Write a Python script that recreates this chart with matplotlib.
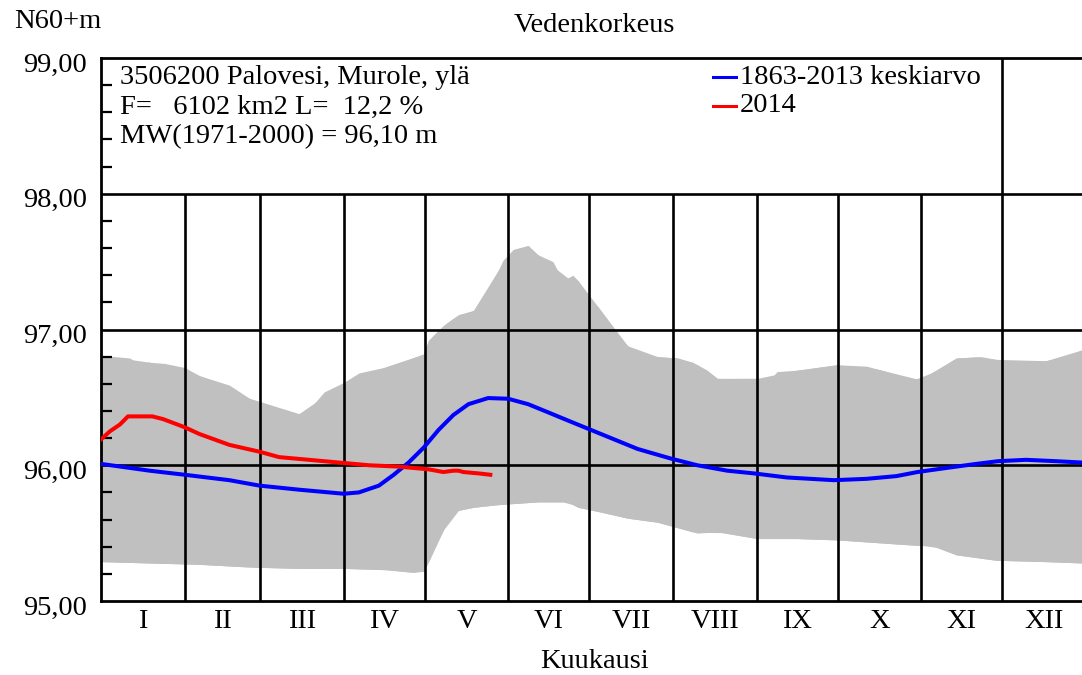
import matplotlib
matplotlib.use("Agg")
import matplotlib.pyplot as plt
import matplotlib.transforms as mtransforms
import numpy as np
from matplotlib.lines import Line2D

plt.rcParams['font.family'] = ['Liberation Serif', 'DejaVu Serif']

# ---- data (day of year, water level N60+m) ----
upper_days = [0, 10.7, 14.4, 17.3, 23.6, 31, 36.5, 47.6, 56.8, 64.2, 69.7, 73.4, 77.1, 82.7,
              90, 95.6, 104.8, 114, 119.6, 121.4, 126.9, 132.5, 138, 141.7, 145.4, 149,
              152.8, 156.5, 158.3, 162, 167.5, 171.2, 174.9, 176.8, 180.4, 184.1, 187.8,
              191.5, 195.2, 198.9, 206.3, 213.7, 219.2, 224.7, 230.3, 235.8, 243.2, 246.9,
              250.6, 257.9, 265.3, 272.7, 283.8, 291.1, 298.5, 304, 309.6, 317, 326.2,
              331.7, 335.4, 342.8, 350.2, 357.6, 363.6]
upper_vals = [96.81, 96.79, 96.74, 96.76, 96.75, 96.72, 96.66, 96.59, 96.47, 96.41, 96.38,
              96.38, 96.41, 96.54, 96.61, 96.68, 96.72, 96.78, 96.82, 96.92, 97.03, 97.11,
              97.14, 97.22, 97.36, 97.51, 97.59, 97.61, 97.62, 97.55, 97.50, 97.36, 97.40,
              97.36, 97.25, 97.17, 97.07, 96.96, 96.88, 96.83, 96.80, 96.79, 96.76, 96.70,
              96.61, 96.64, 96.64, 96.61, 96.69, 96.70, 96.72, 96.74, 96.73, 96.69, 96.63,
              96.64, 96.70, 96.79, 96.80, 96.78, 96.75, 96.77, 96.77, 96.80, 96.85]

lower_days = [0, 18, 36.5, 55, 73.4, 90, 106.6, 115.9, 119.6, 121.4, 125.1, 128.8, 130.6,
              138, 147.2, 162, 173, 176.8, 184.1, 195.2, 206.3, 213.7, 221, 228.4, 243.2,
              257.9, 272.7, 287.5, 302.2, 307.7, 317, 324.4, 331.7, 350.2, 363.6]
lower_vals = [95.29, 95.28, 95.27, 95.25, 95.24, 95.24, 95.23, 95.21, 95.22, 95.29, 95.45,
              95.60, 95.66, 95.69, 95.71, 95.73, 95.73, 95.69, 95.66, 95.61, 95.58, 95.54,
              95.50, 95.51, 95.46, 95.46, 95.45, 95.43, 95.41, 95.41, 95.34, 95.32, 95.30,
              95.29, 95.28]

mean_days = [0, 18, 31, 47.6, 58.7, 73.4, 84.5, 90, 95.6, 103, 108.5, 114, 119.6, 125.1,
             130.6, 136.2, 143.5, 150.9, 158.3, 165.7, 173, 180.4, 187.8, 198.9, 211.1,
             221, 232.1, 242, 254.2, 271.6, 283.8, 294.8, 302.6, 313.3, 324.4, 332.5,
             342.8, 353.9, 363.6]
mean_vals = [96.01, 95.96, 95.93, 95.89, 95.85, 95.82, 95.80, 95.79, 95.80, 95.85, 95.93,
             96.02, 96.13, 96.26, 96.37, 96.45, 96.495, 96.49, 96.45, 96.39, 96.33, 96.27,
             96.21, 96.12, 96.05, 96.00, 95.96, 95.94, 95.91, 95.89, 95.90, 95.92, 95.95,
             95.98, 96.01, 96.03, 96.04, 96.03, 96.02]

y2014_days = [0, 3.3, 7, 10, 14.4, 19, 23, 31, 36.5, 47.6, 58.7, 66, 77.1, 88.2, 99.3, 110.3,
              121.4, 126.9, 130.6, 132.5, 134.3, 139.9, 144.3]
y2014_vals = [96.19, 96.25, 96.30, 96.36, 96.36, 96.36, 96.34, 96.28, 96.23, 96.15, 96.10,
              96.06, 96.04, 96.02, 96.00, 95.99, 95.97, 95.95, 95.96, 95.96, 95.95, 95.94,
              95.93]

month_labels = ['I', 'II', 'III', 'IV', 'V', 'VI', 'VII', 'VIII', 'IX', 'X', 'XI', 'XII']
month_lengths = [31, 28, 31, 30, 31, 30, 31, 31, 30, 31, 30, 31]

info_lines = ['3506200 Palovesi, Murole, ylä',
              'F=   6102 km2 L=  12,2 %',
              'MW(1971-2000) = 96,10 m']
legend_labels = ['1863-2013 keskiarvo', '2014']

# ---- figure ----
W, H = 1082, 675
fig = plt.figure(figsize=(W / 100, H / 100), dpi=100)
ax = fig.add_axes([101 / W, 1 - 601 / H, (1082 - 101) / W, (601 - 58) / H])

FS = 20.5
ax.fill_between(upper_days, np.interp(upper_days, lower_days, lower_vals), upper_vals,
                color='#C0C0C0', lw=0, zorder=1)
ax.fill_between(lower_days, lower_vals, np.interp(lower_days, upper_days, upper_vals),
                color='#C0C0C0', lw=0, zorder=1)

bounds = np.cumsum(month_lengths)
ax.vlines(bounds[:-2], 95, 98, color='black', lw=1.9, zorder=2)
ax.vlines(bounds[-2], 95, 99, color='black', lw=1.9, zorder=2)
ax.hlines([96, 97, 98], 0, 365, color='black', lw=1.9, zorder=2)

ax.plot(mean_days, mean_vals, color='#0000FF', lw=2.9, zorder=3)
ax.plot(y2014_days, y2014_vals, color='#FF0000', lw=2.9, zorder=4)

ax.set_xlim(0, 363.6)
ax.set_ylim(95, 99)
for s in ['left', 'top', 'bottom']:
    ax.spines[s].set_linewidth(2.0)
ax.spines['right'].set_visible(False)

ax.set_yticks([95, 96, 97, 98, 99])
ax.set_yticklabels(['95,00', '96,00', '97,00', '98,00', '99,00'], fontsize=FS)
ax.set_yticks(np.arange(95.2, 99, 0.2), minor=True)
ax.tick_params(axis='y', which='major', length=0, pad=10)
ax.tick_params(axis='y', which='minor', direction='in', length=8, width=1.6)
offset = mtransforms.ScaledTranslation(0, -4 / 100, fig.dpi_scale_trans)
for lab in ax.get_yticklabels():
    lab.set_transform(lab.get_transform() + offset)

mids = bounds - np.array(month_lengths) / 2
ax.set_xticks(mids)
ax.set_xticklabels(month_labels, fontsize=FS)
ax.tick_params(axis='x', length=0, pad=6)

fig.text(594 / W, 1 - 662 / H, 'Kuukausi', ha='center', va='center', fontsize=FS)
fig.text(594 / W, 1 - 25 / H, 'Vedenkorkeus', ha='center', va='center', fontsize=FS)
fig.text(14 / W, 1 - 22 / H, 'N60+m', ha='left', va='center', fontsize=FS)

for i, t in enumerate(info_lines):
    fig.text(120 / W, 1 - (77 + 30 * i) / H, t, ha='left', va='center', fontsize=FS)

for i, (lab, c) in enumerate(zip(legend_labels, ['#0000FF', '#FF0000'])):
    yy = 1 - (77 + 29 * i) / H
    fig.add_artist(Line2D([713 / W, 736 / W], [yy, yy], color=c, lw=2.2))
    fig.text(740 / W, yy, lab, ha='left', va='center', fontsize=FS)

fig.savefig('out.png', dpi=100)
